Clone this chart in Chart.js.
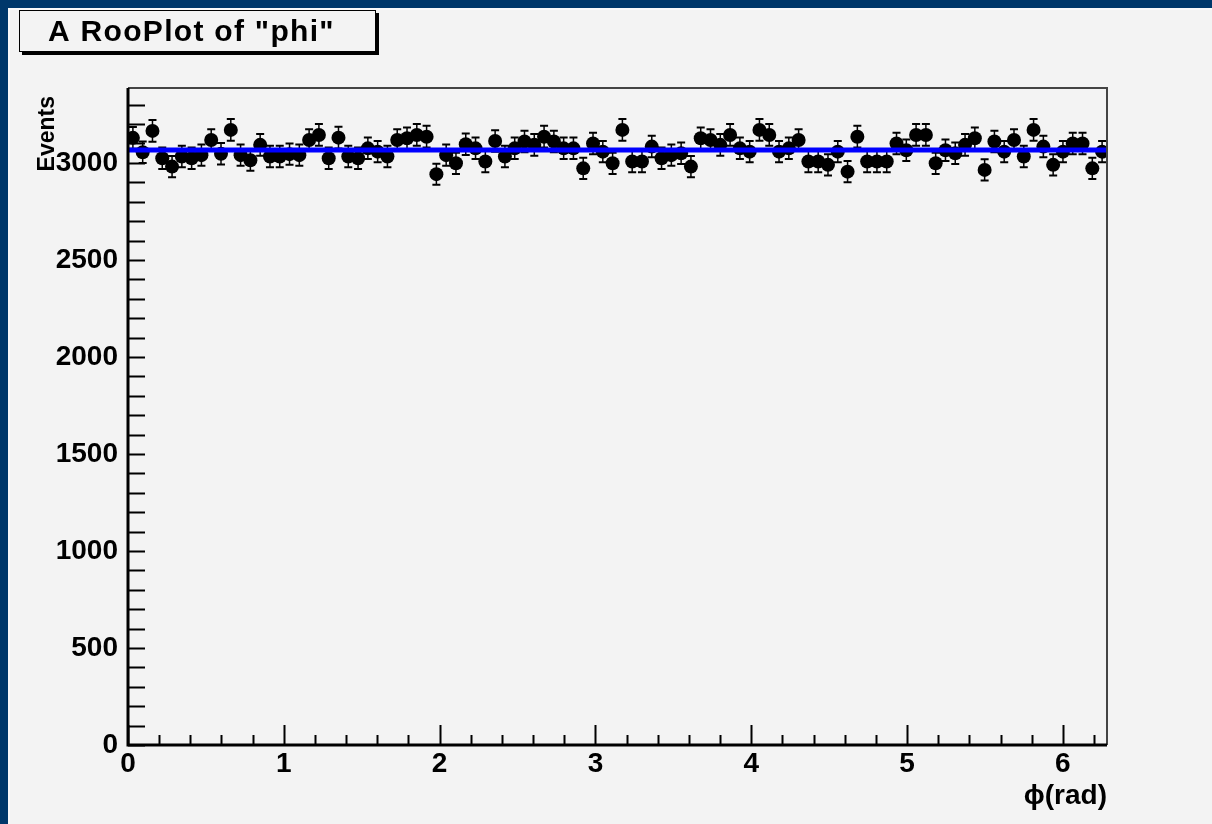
<!DOCTYPE html>
<html lang="en">
<head>
  <meta charset="UTF-8">
  <title>A RooPlot of "phi"</title>
  <script src="https://cdn.jsdelivr.net/npm/chart.js"></script>
  <style>
    html, body { margin: 0; padding: 0; background: #f3f3f3; }
    #wrap { width: 1212px; height: 824px; }
  </style>
</head>
<body>
<div id="wrap"><canvas id="phiPlot"></canvas></div>

<script>
  // phi histogram : 100 bins between 0 and 2*pi
  const phiMin = 0;
  const phiMax = 2 * Math.PI;
  const counts = [
    3129, 3055, 3165, 3024, 2981, 3033, 3024, 3040, 3118, 3047,
    3170, 3040, 3014, 3093, 3033, 3033, 3045, 3040, 3118, 3144,
    3024, 3130, 3033, 3024, 3075, 3058, 3033, 3118, 3127, 3144,
    3135, 2942, 3040, 2998, 3096, 3075, 3007, 3113, 3033, 3075,
    3110, 3093, 3135, 3110, 3075, 3075, 2972, 3100, 3058, 2998,
    3170, 3007, 3007, 3084, 3024, 3040, 3050, 2981, 3127, 3118,
    3093, 3144, 3075, 3058, 3170, 3144, 3058, 3075, 3118, 3007,
    3007, 2990, 3058, 2955, 3135, 3007, 3007, 3007, 3100, 3065,
    3144, 3144, 2998, 3065, 3050, 3093, 3127, 2964, 3110, 3058,
    3118, 3033, 3170, 3084, 2990, 3058, 3100, 3100, 2972, 3058
  ];
  // poisson errors on each bin
  const errors = counts.map(Math.sqrt);
  // flat fit result
  const fitLevel = 3066;

  const yMax = 3386;
  const xTickValues = [0, 1, 2, 3, 4, 5, 6];
  const yTickValues = [0, 500, 1000, 1500, 2000, 2500, 3000];
  const titleText = 'A RooPlot of "phi"';
  const xTitle = '\u03d5(rad)';
  const yTitle = 'Events';

  const binWidth = (phiMax - phiMin) / counts.length;
  const points = counts.map((c, i) => ({ x: phiMin + (i + 0.5) * binWidth, y: c }));

  const FONT = '"Liberation Sans", Arial, Helvetica, sans-serif';

  // canvas background, error bars, frame ticks and the title box
  const rooPlugin = {
    id: 'rooPlot',
    beforeDraw(chart) {
      const ctx = chart.ctx;
      ctx.save();
      ctx.fillStyle = '#00386b';
      ctx.fillRect(0, 0, chart.width, chart.height);
      ctx.fillStyle = '#fafafa';
      ctx.fillRect(8, 8, chart.width - 8, chart.height - 8);
      ctx.fillStyle = '#f3f3f3';
      ctx.fillRect(10, 10, chart.width - 10, chart.height - 10);
      ctx.restore();
    },
    beforeDatasetsDraw(chart) {
      const ctx = chart.ctx;
      const xs = chart.scales.x, ys = chart.scales.y;
      ctx.save();
      ctx.strokeStyle = '#000';
      points.forEach((p, i) => {
        const px = xs.getPixelForValue(p.x);
        const top = ys.getPixelForValue(p.y + errors[i]);
        const bot = ys.getPixelForValue(p.y - errors[i]);
        ctx.lineWidth = 1.5;
        ctx.beginPath();
        ctx.moveTo(px, top);
        ctx.lineTo(px, bot);
        ctx.stroke();
        ctx.lineWidth = 2;
        ctx.beginPath();
        ctx.moveTo(px - 4, top);
        ctx.lineTo(px + 4, top);
        ctx.moveTo(px - 4, bot);
        ctx.lineTo(px + 4, bot);
        ctx.stroke();
      });
      ctx.restore();
    },
    afterDatasetsDraw(chart) {
      const ctx = chart.ctx;
      const a = chart.chartArea;
      const xs = chart.scales.x, ys = chart.scales.y;
      ctx.save();
      // frame
      ctx.strokeStyle = '#444';
      ctx.lineWidth = 2;
      ctx.beginPath();
      ctx.moveTo(a.left, a.top);
      ctx.lineTo(a.right, a.top);
      ctx.lineTo(a.right, a.bottom);
      ctx.stroke();
      ctx.strokeStyle = '#000';
      ctx.lineWidth = 3;
      ctx.beginPath();
      ctx.moveTo(a.left, a.top);
      ctx.lineTo(a.left, a.bottom);
      ctx.lineTo(a.right, a.bottom);
      ctx.stroke();
      // ticks pointing inside
      ctx.lineWidth = 2;
      ctx.beginPath();
      for (let v = 0; v <= yMax; v += 100) {
        const py = Math.round(ys.getPixelForValue(v)) + 0.5;
        ctx.moveTo(a.left, py);
        ctx.lineTo(a.left + 17, py);
      }
      for (let k = 0; k * 0.2 <= phiMax; k++) {
        const px = Math.round(xs.getPixelForValue(k * 0.2)) + 0.5;
        const len = k % 5 === 0 ? 20 : 10;
        ctx.moveTo(px, a.bottom);
        ctx.lineTo(px, a.bottom - len);
      }
      ctx.stroke();
      ctx.restore();
    },
    afterDraw(chart) {
      const ctx = chart.ctx;
      const a = chart.chartArea;
      ctx.save();
      // y axis title, right aligned near the top of the axis
      ctx.fillStyle = '#000';
      ctx.font = 'bold 23px ' + FONT;
      ctx.translate(54, a.top + 8);
      ctx.rotate(-Math.PI / 2);
      ctx.textAlign = 'right';
      ctx.textBaseline = 'alphabetic';
      ctx.fillText(yTitle, 0, 0);
      ctx.restore();

      ctx.save();
      // title box with shadow
      ctx.fillStyle = '#000';
      ctx.fillRect(22, 13, 357, 42);
      ctx.fillStyle = '#f3f3f3';
      ctx.fillRect(19, 10, 357, 42);
      ctx.strokeStyle = '#000';
      ctx.lineWidth = 1;
      ctx.strokeRect(19.5, 10.5, 356, 41);
      ctx.fillStyle = '#000';
      ctx.font = 'bold 30px ' + FONT;
      if ('letterSpacing' in ctx) ctx.letterSpacing = '1.3px';
      ctx.textBaseline = 'alphabetic';
      ctx.fillText(titleText, 48, 41);
      ctx.restore();
    }
  };

  new Chart(document.getElementById('phiPlot'), {
    type: 'scatter',
    data: {
      datasets: [
        {
          label: 'fit',
          data: [{ x: phiMin, y: fitLevel }, { x: phiMax, y: fitLevel }],
          showLine: true,
          borderColor: '#0000ff',
          borderWidth: 5,
          pointRadius: 0,
          order: 1
        },
        {
          label: 'data',
          data: points,
          backgroundColor: '#000',
          borderWidth: 0,
          pointRadius: 7,
          order: 2
        }
      ]
    },
    options: {
      responsive: true,
      maintainAspectRatio: false,
      animation: false,
      devicePixelRatio: 1,
      layout: { padding: { left: 10, top: 88, right: 105, bottom: 0 } },
      plugins: {
        legend: { display: false },
        tooltip: { enabled: false }
      },
      scales: {
        x: {
          type: 'linear',
          min: phiMin,
          max: phiMax,
          grid: { display: false, drawTicks: false },
          border: { display: false },
          ticks: {
            autoSkip: false,
            padding: 2,
            color: '#000',
            maxRotation: 0,
            callback: (v) => String(v),
            font: { family: FONT, size: 28, weight: 'bold' }
          },
          afterBuildTicks: (s) => { s.ticks = xTickValues.map(v => ({ value: v })); },
          afterFit: (s) => { s.height = 79; },
          title: {
            display: true,
            text: xTitle,
            align: 'end',
            color: '#000',
            padding: { top: 0, bottom: 11 },
            font: { family: FONT, size: 28, weight: 'bold' }
          }
        },
        y: {
          type: 'linear',
          min: 0,
          max: yMax,
          grid: { display: false, drawTicks: false },
          border: { display: false },
          ticks: {
            autoSkip: false,
            padding: 10,
            color: '#000',
            callback: (v) => String(v),
            font: { family: FONT, size: 28, weight: 'bold' }
          },
          afterBuildTicks: (s) => { s.ticks = yTickValues.map(v => ({ value: v })); },
          afterFit: (s) => { s.width = 118; },
          title: { display: false }
        }
      }
    },
    plugins: [rooPlugin]
  });
</script>
</body>
</html>
